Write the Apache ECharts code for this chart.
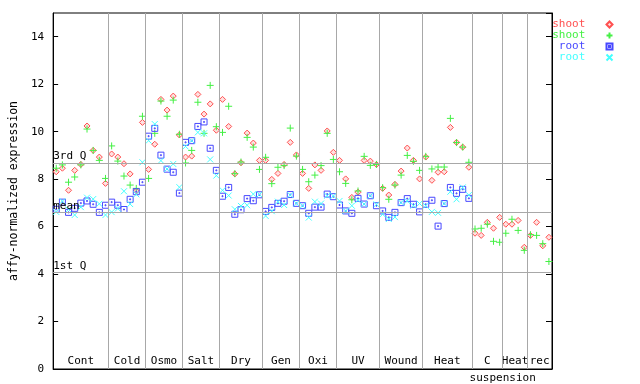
<!DOCTYPE html>
<html>
<head>
<meta charset="utf-8">
<script src="https://cdn.jsdelivr.net/npm/echarts@6/dist/echarts.min.js"></script>
<style>html,body{margin:0;padding:0;background:#fff;}#c{width:640px;height:384px;}</style>
</head>
<body>
<div id="c"></div>
<script>
// ---- data ----
const groupLabels = ['Cont','Cold','Osmo','Salt','Dry','Gen','Oxi','UV','Wound','Heat','C','Heat','rec'];
const groupSizes  = [9,6,6,6,7,6,6,7,7,8,5,4,4];
const subLabel = 'suspension';          // second line under "C"
const subLabelGroup = 10;
const yMin = 0, yMax = 15, yStep = 2;
const quart3 = 8.68, meanVal = 6.60, quart1 = 4.07;
const seriesLabels = ['shoot','shoot','root','root'];

const shoot1 = [
 8.31,8.46,7.53,8.37,8.62,10.24,9.21,8.93,7.82,
 9.06,8.93,8.65,8.22,7.50,10.39,
 8.41,9.47,11.36,10.91,11.50,9.86,
 8.93,8.97,11.57,10.74,11.17,10.06,
 11.36,10.22,8.22,8.69,9.94,9.52,8.79,
 8.79,7.99,8.24,8.62,9.55,9.02,
 8.24,7.61,8.60,8.37,10.03,9.13,
 8.79,8.01,7.23,7.45,8.79,8.76,8.62,
 7.61,7.33,7.78,8.34,9.31,8.79,8.01,
 8.93,7.95,8.29,8.31,10.18,9.55,9.35,8.50,
 5.72,5.63,6.18,5.93,6.39,
 6.10,6.10,6.26,5.13,
 5.63,6.18,5.19,5.55];
const shoot2 = [
 8.46,8.60,7.87,8.09,8.60,10.11,9.21,8.79,8.03,
 9.40,8.76,8.13,7.75,7.61,10.65,
 8.03,9.93,11.29,10.65,11.33,9.89,
 8.68,9.21,11.24,9.93,11.95,10.21,
 9.97,11.07,8.23,8.72,9.76,9.35,8.41,
 8.92,7.81,8.50,8.57,10.15,8.97,
 8.41,7.89,8.17,8.57,9.93,8.83,
 8.31,7.82,7.13,7.50,8.96,8.58,8.62,
 7.64,7.15,7.75,8.17,9.00,8.75,8.37,
 8.96,8.43,8.51,8.51,10.56,9.54,9.35,8.71,
 5.90,5.93,6.10,5.38,5.34,
 5.72,6.31,5.84,5.00,
 5.66,5.63,5.28,4.53];
const root1 = [
 6.73,7.03,6.60,6.77,6.99,7.08,6.94,6.60,6.90,
 7.03,6.90,6.72,7.15,7.47,7.87,
 9.81,10.14,9.01,8.42,8.29,7.41,
 9.55,9.62,10.22,10.41,9.30,8.37,
 7.28,7.65,6.52,6.71,7.18,7.09,7.34,
 6.64,6.81,6.98,7.07,7.35,6.98,
 6.88,6.56,6.82,6.82,7.37,7.26,
 6.91,6.66,6.56,7.19,6.95,7.30,6.88,
 6.66,6.39,6.60,7.01,7.18,6.94,6.62,
 6.94,7.11,6.02,6.97,7.65,7.40,7.57,7.19];
const root2 = [
 6.62,7.07,6.72,6.49,6.82,7.22,7.16,6.96,6.49,
 6.61,6.76,7.49,6.95,7.36,8.71,
 9.62,10.32,8.78,8.43,8.64,7.66,
 9.38,9.62,9.97,9.93,8.83,8.15,
 7.53,7.31,6.73,6.87,6.90,7.37,7.35,
 6.45,6.65,7.05,6.91,7.33,6.98,
 6.88,6.38,7.05,6.97,7.30,7.29,
 7.08,6.66,6.88,7.11,6.95,7.30,6.94,
 6.52,6.32,6.40,7.01,7.08,6.88,6.97,
 6.88,6.62,6.58,6.97,7.47,7.15,7.65,7.33];

// ---- derived layout from data ----
const total = groupSizes.reduce((a,b)=>a+b,0);
const starts = []; let acc = 0;
groupSizes.forEach(s=>{starts.push(acc); acc+=s;});
const centers = groupSizes.map((s,i)=>starts[i]+(s-1)/2);
const bounds = starts.slice(1).map(s=>s-0.5);
const subPos = starts[subLabelGroup]+groupSizes[subLabelGroup]-0.5;

const FONT = 'DejaVu Sans Mono';
const cols = ['#ff5050','#44f044','#4848ff','#44ffff'];
const syms = [
  'diamond',
  'path://M3.5,0L3.5,7M0,3.5L7,3.5',
  'path://M0,0L6,0L6,6L0,6Z M2.5,2.5L3.5,2.5L3.5,3.5L2.5,3.5Z',
  'path://M0,0L6,6M6,0L0,6'
];
const sizes = [6,7,6,6];
const dataArr = [shoot1, shoot2, root1, root2];
const names = seriesLabels.map((l,i)=>l+'_'+i);

const series = dataArr.map((arr,k)=>({
  type:'scatter', name:names[k], z:3,
  symbol:syms[k], symbolSize:sizes[k], symbolKeepAspect:true,
  itemStyle:{color: k===0 ? '#ffe0e0' : 'none', borderColor:cols[k], borderWidth:1, opacity:1},
  emphasis:{disabled:true},
  data: arr.map((v,i)=> v==null ? null : [i, v])
}));

const qLabel = t => ({show:true, formatter:t, position:'insideStartTop', distance:[0,1], color:'#000', fontFamily:FONT, fontSize:11});
series.push({
  type:'scatter', name:'lines', data:[], z:1, silent:true,
  markLine:{
    silent:true, symbol:['none','none'], animation:false,
    lineStyle:{color:'#a8a8a8', width:1, type:'solid'},
    label:{show:false},
    data: bounds.map(b=>({xAxis:b})).concat([
      {yAxis:quart3, label:qLabel('3rd Q')},
      {yAxis:meanVal, label:qLabel('mean')},
      {yAxis:quart1, label:qLabel('1st Q')}
    ])
  }
});

const labelAt = v => { const i = centers.findIndex(c=>Math.abs(c-v)<1e-6); return i<0?'':groupLabels[i]; };

const option = {
  animation:false,
  backgroundColor:'#fff',
  grid:{left:44, right:88, top:13, bottom:15, show:true, borderColor:'#000', borderWidth:1, backgroundColor:'transparent'},
  legend:{
    orient:'vertical', right:20, top:14, align:'right',
    itemWidth:6, itemHeight:6, itemGap:0, selectedMode:false,
    data: names.map((n,k)=>({name:n, textStyle:{color:cols[k]}})),
    formatter: n => seriesLabels[names.indexOf(n)].padStart(5,' ') + '  ',
    textStyle:{fontFamily:FONT, fontSize:11, lineHeight:11, padding:[0,3,0,0]}
  },
  xAxis:[
    {type:'value', min:-0.5, max:total-0.5, position:'bottom',
     axisLine:{show:true, onZero:false, lineStyle:{color:'#000', width:1}},
     axisTick:{show:false}, splitLine:{show:false},
     axisLabel:{show:true, inside:true, margin:2, customValues:centers, formatter:labelAt,
       color:'#000', fontFamily:FONT, fontSize:11, showMinLabel:true, showMaxLabel:true}},
    {type:'value', min:-0.5, max:total-0.5, position:'bottom',
     axisLine:{show:false}, axisTick:{show:false}, splitLine:{show:false},
     axisLabel:{show:true, margin:4, customValues:[subPos], formatter:()=>subLabel,
       color:'#000', fontFamily:FONT, fontSize:11, showMinLabel:true, showMaxLabel:true}}
  ],
  yAxis:[
    {type:'value', min:yMin, max:yMax, interval:yStep, position:'left',
     name:'affy-normalized expression', nameLocation:'middle', nameGap:31,
     nameTextStyle:{color:'#000', fontFamily:FONT, fontSize:11.5},
     axisLine:{show:true, onZero:false, lineStyle:{color:'#000'}},
     axisTick:{show:true, inside:true, length:5, lineStyle:{color:'#000'}},
     axisLabel:{color:'#000', fontFamily:FONT, fontSize:11, margin:9, showMaxLabel:false},
     splitLine:{show:false}},
    {type:'value', min:yMin, max:yMax, interval:yStep, position:'right',
     axisLine:{show:true, onZero:false, lineStyle:{color:'#000'}},
     axisTick:{show:true, inside:true, length:6, lineStyle:{color:'#000'}},
     axisLabel:{show:false}, splitLine:{show:false}}
  ],
  series: series
};

const chart = echarts.init(document.getElementById('c'), null, {renderer:'canvas'});
chart.setOption(option);
</script>
</body>
</html>
